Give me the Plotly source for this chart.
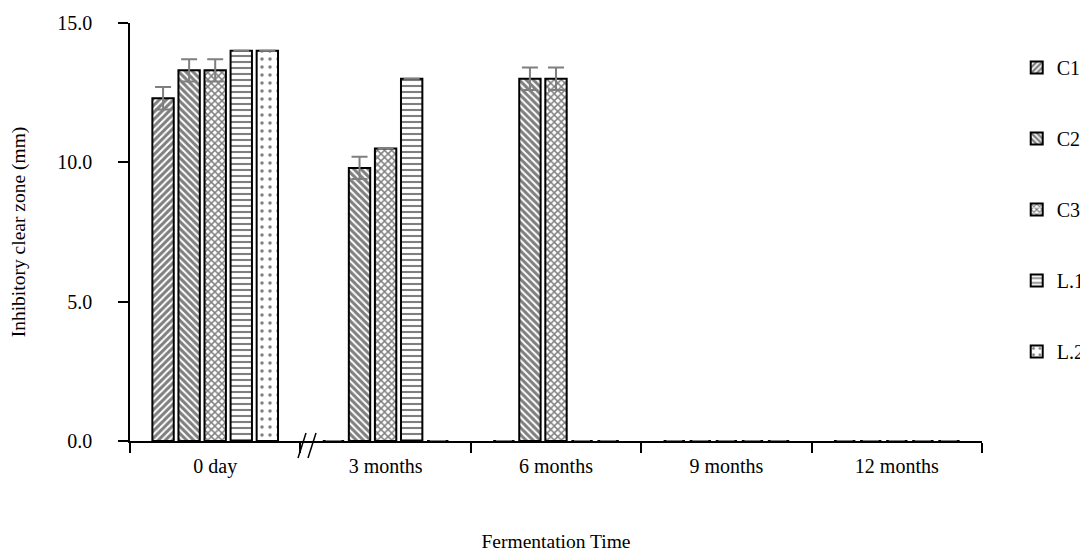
import plotly.graph_objects as go

categories = ["0 day", "3 months", "6 months", "9 months", "12 months"]
series_names = ["C1", "C2", "C3", "L.1", "L.2"]
C1 = [12.3, 0, 0, 0, 0]
C2 = [13.3, 9.8, 13.0, 0, 0]
C3 = [13.3, 10.5, 13.0, 0, 0]
L1 = [14.0, 13.0, 0, 0, 0]
L2 = [14.0, 0, 0, 0, 0]
C1_err = [0.4, 0, 0, 0, 0]
C2_err = [0.4, 0.4, 0.4, 0, 0]
C3_err = [0.4, 0, 0.4, 0, 0]
L1_err = [0, 0, 0, 0, 0]
L2_err = [0, 0, 0, 0, 0]

values = [C1, C2, C3, L1, L2]
errors = [C1_err, C2_err, C3_err, L1_err, L2_err]
patterns = ["/", "\\", "x", "-", "."]
pat_sizes = [5, 5, 5, 6, 8]
solid = [0.6, 0.6, 0.5, 0.35, 0.15]

FONT = "Liberation Serif, Times New Roman, serif"

fig = go.Figure()
for i, name in enumerate(series_names):
    fig.add_trace(go.Bar(
        x=categories, y=values[i], name=name,
        legendgroup=name,
        marker=dict(color="white", line=dict(color="black", width=2),
                    pattern=dict(shape=patterns[i], fgcolor="black", bgcolor="white",
                                 size=pat_sizes[i], solidity=solid[i])),
        error_y=dict(type="data", array=errors[i], visible=True,
                     color="#7f7f7f", thickness=2, width=8),
    ))

# page body adds an 8px offset, so the figure is 8px smaller than the window
fig.update_layout(
    width=1080, height=552,
    margin=dict(l=122, r=106, t=15, b=119, autoexpand=False),
    paper_bgcolor="white", plot_bgcolor="white",
    font=dict(family=FONT, size=20, color="black"),
    barmode="group", bargap=0.235, bargroupgap=0.18,
    showlegend=True,
    legend=dict(xref="container", yref="container", x=0.934, y=0.9275,
                xanchor="left", yanchor="top", maxheight=500,
                tracegroupgap=42, font=dict(size=20), bgcolor="rgba(0,0,0,0)"),
    xaxis=dict(showline=True, linecolor="black", linewidth=1.5,
               ticks="outside", ticklen=10, tickcolor="black", tickwidth=1.5,
               tickson="boundaries", showgrid=False, automargin=False,
               tickfont=dict(size=20), ticklabelstandoff=6,
               title=dict(text="Fermentation Time", standoff=58, font=dict(size=19.5))),
    yaxis=dict(range=[0, 15], dtick=5, tickformat=".1f",
               showline=True, linecolor="black", linewidth=1.5,
               ticks="outside", ticklen=10, tickcolor="black", tickwidth=1.5,
               showgrid=False, zeroline=False, ticklabelstandoff=22, automargin=False,
               tickfont=dict(size=20),
               title=dict(text="Inhibitory clear zone (mm)", standoff=28, font=dict(size=19.5))),
)

# axis break marks "//"
for dx in [0, 10]:
    fig.add_shape(type="line", xref="paper", yref="paper",
                  x0=(298 - 130 + dx) / 852, x1=(306 - 130 + dx) / 852,
                  y0=-17 / 418, y1=8 / 418,
                  line=dict(color="black", width=1.5))

fig.write_html("out.html")
